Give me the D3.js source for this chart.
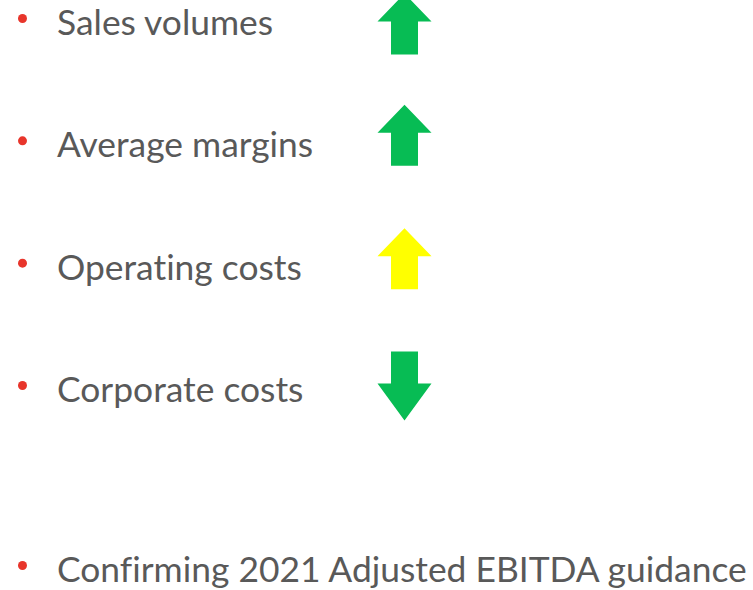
<!DOCTYPE html>
<html>
<head>
<meta charset="utf-8">
<script src="https://d3js.org/d3.v7.min.js"></script>
<style>
  html, body { margin: 0; padding: 0; background: #ffffff; overflow: hidden; }
  svg { display: block; }
  text { font-variant-ligatures: none; font-feature-settings: "liga" 0, "clig" 0; }
</style>
</head>
<body>
<div id="chart"></div>
<script>
// Items and their trend direction
const items = ["Sales volumes", "Average margins", "Operating costs", "Corporate costs"];
const trends = ["up", "up", "up", "down"];
const trendColors = ["#07bc54", "#07bc54", "#ffff00", "#07bc54"];
const closingLine = "Confirming 2021 Adjusted EBITDA guidance";

// layout only (arrow vertical nudge vs. text baseline)
const arrowNudge = [-11, -22, -21, -16];

const width = 753, height = 590;
const textColor = "#595959";
const bulletColor = "#e8352b";
const fontFamily = "Lato, 'Open Sans', sans-serif";

const svg = d3.select("#chart").append("svg")
    .attr("width", width)
    .attr("height", height);

// baseline per row
const y = d3.scaleLinear().domain([0, items.length - 1]).range([35, 402]);
const closingY = 582;

const rows = items.map((d, i) => ({ label: d, trend: trends[i], color: trendColors[i], y: y(i), nudge: arrowNudge[i] }));

const textG = svg.append("g");

const lines = rows.map(r => ({ label: r.label, y: r.y }))
    .concat([{ label: closingLine, y: closingY }]);

textG.selectAll("circle.bullet")
    .data(lines)
    .enter()
    .append("circle")
    .attr("class", "bullet")
    .attr("cx", 22.5)
    .attr("cy", d => d.y - 16.5)
    .attr("r", 4.5)
    .attr("fill", bulletColor);

const labels = textG.selectAll("text.label")
    .data(lines)
    .enter()
    .append("text")
    .attr("class", "label")
    .attr("y", d => d.y)
    .attr("font-family", fontFamily)
    .attr("font-size", 34.5)
    .attr("fill", textColor)
    .text(d => d.label);

// squeeze horizontally so the long line spans like the original
const longest = labels.filter(d => d.label === closingLine).node().getComputedTextLength();
const sx = 690 / longest;
labels.attr("transform", d => `translate(57,${d.y}) scale(${sx},1) translate(0,${-d.y})`);

// arrows
const headW = 54, shaftW = 27;
function arrowPath(trend) {
    if (trend === "up") {
        // apex at 0, head 28 tall, shaft 33 tall
        return `M0,0 L${headW / 2},28 L${shaftW / 2},28 L${shaftW / 2},61 L${-shaftW / 2},61 L${-shaftW / 2},28 L${-headW / 2},28 Z`;
    }
    // down: shaft 32 tall, head 37 tall
    return `M${-shaftW / 2},0 L${shaftW / 2},0 L${shaftW / 2},32 L${headW / 2},32 L0,69 L${-headW / 2},32 L${-shaftW / 2},32 Z`;
}

svg.append("g").selectAll("path.arrow")
    .data(rows)
    .enter()
    .append("path")
    .attr("class", "arrow")
    .attr("d", d => arrowPath(d.trend))
    .attr("fill", d => d.color)
    .attr("transform", d => {
        const h = d.trend === "up" ? 61 : 69;
        return `translate(404.5,${d.y + d.nudge - h / 2})`;
    });
</script>
</body>
</html>
